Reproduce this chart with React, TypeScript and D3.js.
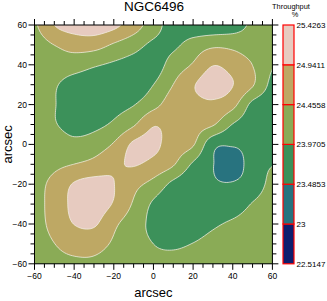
import React from "react";
import * as d3 from "d3";

// Grid of throughput values (%) sampled every 10 arcsec, rows from y=60 (top) to y=-60 (bottom),
// columns from x=-60 to x=60.
const xGrid = [-60, -50, -40, -30, -20, -10, 0, 10, 20, 30, 40, 50, 60];
const yGrid = [60, 50, 40, 30, 20, 10, 0, -10, -20, -30, -40, -50, -60];
const row60 = [24.4, 24.94, 25.15, 25.2, 25.05, 24.69, 24.19, 23.75, 23.65, 23.65, 23.75, 24.05, 24.15];
const row50 = [24.25, 24.46, 24.63, 24.64, 24.4, 24.15, 23.88, 23.88, 24.17, 24.36, 24.33, 24.2, 24.1];
const row40 = [24.2, 24.25, 24.2, 24.03, 23.9, 23.8, 23.75, 24.17, 24.5, 24.92, 24.75, 24.45, 24.0];
const row30 = [24.15, 24.02, 23.75, 23.65, 23.65, 23.7, 23.97, 24.46, 24.9, 25.15, 24.95, 24.5, 23.85];
const row20 = [24.1, 23.99, 23.7, 23.6, 23.8, 23.95, 24.3, 24.7, 24.8, 24.85, 24.6, 23.85, 23.7];
const row10 = [24.1, 24.0, 23.8, 23.85, 24.05, 24.4, 24.9, 24.75, 24.65, 24.5, 23.95, 23.7, 23.6];
const row0 = [24.15, 24.2, 24.1, 24.2, 24.5, 25.02, 25.05, 24.7, 24.5, 23.62, 23.53, 23.62, 23.65];
const rowM10 = [24.2, 24.35, 24.46, 24.6, 24.85, 24.97, 24.8, 24.5, 23.9, 23.5, 23.26, 23.7, 23.95];
const rowM20 = [24.3, 24.6, 24.98, 25.1, 24.95, 24.6, 24.3, 23.85, 23.6, 23.52, 23.52, 23.7, 24.1];
const rowM30 = [24.3, 24.65, 25.05, 25.15, 24.9, 24.4, 23.9, 23.65, 23.6, 23.6, 23.7, 24.0, 24.2];
const rowM40 = [24.3, 24.6, 24.95, 25.0, 24.55, 24.2, 23.85, 23.7, 23.75, 23.9, 24.05, 24.2, 24.25];
const rowM50 = [24.25, 24.45, 24.6, 24.6, 24.4, 24.15, 23.97, 23.92, 23.98, 24.1, 24.2, 24.25, 24.3];
const rowM60 = [24.2, 24.35, 24.4, 24.4, 24.3, 24.15, 24.05, 24.05, 24.1, 24.15, 24.2, 24.25, 24.3];
const gridRows = [row60, row50, row40, row30, row20, row10, row0, rowM10, rowM20, rowM30, rowM40, rowM50, rowM60];

const levels = [22.5147, 23, 23.4853, 23.9705, 24.4558, 24.9411, 25.4263];
const levelLabels = ["22.5147", "23", "23.4853", "23.9705", "24.4558", "24.9411", "25.4263"];
const bandColors = ["#0f1f6e", "#28737f", "#3c915a", "#8aab56", "#bea864", "#e7cbc0"];
const xTicks = [-60, -40, -20, 0, 20, 40, 60];
const yTicks = [-60, -40, -20, 0, 20, 40, 60];
const minorTicks = d3.range(-60, 61, 5);

const W = 327;
const H = 301;
const L = 34.5, R = 272.4, T = 25, B = 263.8;
const FONT = "'Liberation Sans', Arial, Helvetica, sans-serif";

function cr(p0: number, p1: number, p2: number, p3: number, t: number) {
  return 0.5 * (2 * p1 + (-p0 + p2) * t + (2 * p0 - 5 * p1 + 4 * p2 - p3) * t * t + (-p0 + 3 * p1 - 3 * p2 + p3) * t * t * t);
}

function sample(gx: number, gy: number) {
  const n = xGrid.length, m = yGrid.length;
  const get = (i: number, j: number) => gridRows[Math.max(0, Math.min(m - 1, j))][Math.max(0, Math.min(n - 1, i))];
  let ix = Math.floor(gx), iy = Math.floor(gy);
  if (ix >= n - 1) ix = n - 2;
  if (iy >= m - 1) iy = m - 2;
  const tx = gx - ix, ty = gy - iy;
  const col: number[] = [];
  for (let k = -1; k <= 2; k++) {
    col.push(cr(get(ix - 1, iy + k), get(ix, iy + k), get(ix + 1, iy + k), get(ix + 2, iy + k), tx));
  }
  return cr(col[0], col[1], col[2], col[3], ty);
}

export default function App() {
  const x = d3.scaleLinear().domain([-60, 60]).range([L, R]);
  const y = d3.scaleLinear().domain([-60, 60]).range([B, T]);
  const cb = d3.scaleLinear().domain([levels[0], levels[levels.length - 1]]).range([B, T]);

  const N = 121; // 1 arcsec resolution
  const step = 120 / (N - 1);
  const values: number[] = new Array(N * N);
  for (let j = 0; j < N; j++) {
    const yv = 60 - j * step;
    for (let i = 0; i < N; i++) {
      const xv = -60 + i * step;
      values[j * N + i] = sample((xv + 60) / 10, (60 - yv) / 10);
    }
  }
  const contours = d3.contours().size([N, N]).thresholds(levels.slice(0, 6))(values);
  const proj = d3.geoTransform({
    point(px: number, py: number) {
      this.stream.point(x(-60 + (px - 0.5) * step), y(60 - (py - 0.5) * step));
    },
  });
  const path = d3.geoPath(proj);

  return (
    <svg width={W} height={H} style={{ position: "absolute", left: 0, top: 0 }} fontFamily={FONT}>
      <defs>
        <clipPath id="plotclip">
          <rect x={L} y={T} width={R - L} height={B - T} />
        </clipPath>
      </defs>
      <rect x={0} y={0} width={W} height={H} fill="#ffffff" />
      <g clipPath="url(#plotclip)">
        {contours.map((c, i) => (
          <path key={i} d={path(c as any) || ""} fill={bandColors[i]} stroke="#f4f1e6" strokeWidth={0.8} strokeOpacity={i === 0 ? 0 : 0.95} />
        ))}
      </g>
      <rect x={L} y={T} width={R - L} height={B - T} fill="none" stroke="#000" strokeWidth={1} />
      {/* ticks */}
      {minorTicks.map((v) => (
        <g key={"m" + v} stroke="#000" strokeWidth={1}>
          <line x1={x(v)} x2={x(v)} y1={B} y2={B + (xTicks.includes(v) ? 6 : 4)} />
          <line x1={x(v)} x2={x(v)} y1={T} y2={T - (xTicks.includes(v) ? 6 : 4)} />
          <line y1={y(v)} y2={y(v)} x1={L} x2={L - (yTicks.includes(v) ? 6 : 4)} />
          <line y1={y(v)} y2={y(v)} x1={R} x2={R + (yTicks.includes(v) ? 6 : 4)} />
        </g>
      ))}
      {xTicks.map((v) => (
        <text key={"xt" + v} x={x(v)} y={279} fontSize={8.5} textAnchor="middle" fill="#000">
          {d3.format("d")(v)}
        </text>
      ))}
      {yTicks.map((v) => (
        <text key={"yt" + v} x={27} y={y(v) + 3} fontSize={8.5} textAnchor="end" fill="#000">
          {d3.format("d")(v)}
        </text>
      ))}
      <text x={(L + R) / 2} y={297} fontSize={13} textAnchor="middle" fill="#000">arcsec</text>
      <text transform={`translate(12,${(T + B) / 2}) rotate(-90)`} fontSize={13} textAnchor="middle" fill="#000">arcsec</text>
      <text x={154} y={11} fontSize={13.5} textAnchor="middle" fill="#000">NGC6496</text>
      {/* colorbar */}
      {bandColors.map((c, i) => (
        <rect key={"cb" + i} x={283} y={cb(levels[i + 1])} width={11} height={cb(levels[i]) - cb(levels[i + 1])} fill={c} stroke="#ff0000" strokeWidth={1.2} />
      ))}
      {levels.map((v, i) => (
        <text key={"cl" + i} x={296.5} y={cb(v) + 3} fontSize={8} fill="#000">{levelLabels[i]}</text>
      ))}
      <text x={291} y={9} fontSize={7.4} textAnchor="middle" fill="#000">Throughput</text>
      <text x={295} y={16.5} fontSize={7.4} textAnchor="middle" fill="#000">%</text>
    </svg>
  );
}
